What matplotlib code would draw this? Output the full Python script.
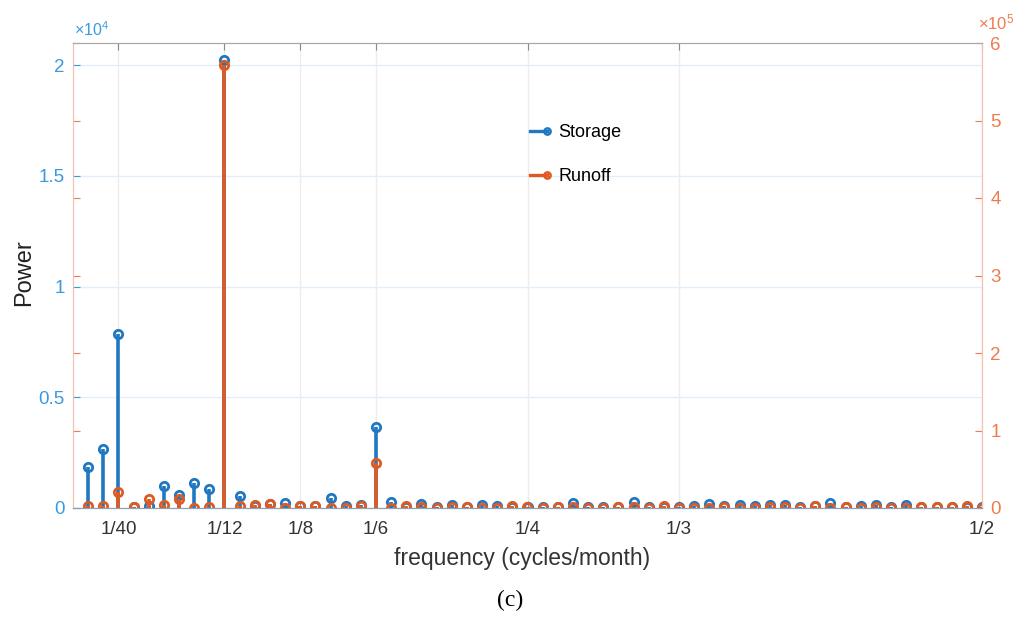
#! /usr/bin/env python3

# Power spectrum of storage and runoff (stem plot with two y axes)

import numpy as np
import matplotlib.pyplot as plt
from matplotlib.lines import Line2D
from matplotlib.legend_handler import HandlerBase
from matplotlib.ticker import FuncFormatter

plt.rcParams['font.family'] = ['Liberation Sans', 'DejaVu Sans']
plt.rcParams['mathtext.fontset'] = 'custom'
plt.rcParams['mathtext.rm'] = 'Liberation Sans'
plt.rcParams['mathtext.it'] = 'Liberation Sans:italic'

# Input data: 120 monthly values -> harmonics k = 1..60 (k/120 cycles/month)
n_months = 120
harmonic = np.arange(1, 61)

storage = [1840, 2650, 7860, 50, 100, 980, 580, 1120, 860, 20230,
           530, 100, 200, 230, 80, 100, 470, 80, 150, 3660,
           270, 60, 170, 60, 150, 60, 120, 100, 50, 60,
           50, 60, 230, 60, 60, 60, 270, 60, 60, 60,
           80, 170, 100, 120, 80, 120, 150, 60, 80, 210,
           60, 80, 150, 60, 120, 60, 60, 50, 50, 50]

runoff = [3000, 3000, 21000, 1000, 11000, 4500, 11000, 500, 1000, 572000,
          3000, 3500, 5800, 500, 2000, 3000, 500, 300, 2000, 58700,
          300, 2500, 1500, 300, 800, 1000, 500, 500, 2500, 1000,
          500, 1500, 1000, 300, 500, 1000, 800, 500, 2000, 300,
          500, 300, 800, 300, 500, 800, 800, 300, 2500, 500,
          800, 500, 800, 300, 500, 800, 1000, 1000, 2000, 500]

xtick_pos = [1 / 40, 1 / 12, 1 / 8, 1 / 6, 1 / 4, 1 / 3, 1 / 2]
xtick_labels = ['1/40', '1/12', '1/8', '1/6', '1/4', '1/3', '1/2']

freq = harmonic / n_months

# colours (MATLAB-like)
blue = '#1f78c1'
orange = '#de5a22'
blue_txt = '#3a9ae0'
orange_txt = '#ee7b4e'
spine_orange = '#f6c2ab'


class HandlerStem(HandlerBase):
    # legend key: short horizontal line with an open circle at its right end
    def create_artists(self, legend, orig_handle, xdescent, ydescent, width, height, fontsize, trans):
        y = height / 2 - ydescent
        col = orig_handle.get_color()
        line = Line2D([-xdescent, width - xdescent], [y, y], color=col, lw=2.4)
        mk = Line2D([width - xdescent], [y], color=col, marker='o', mfc='none', mew=1.8, ms=4.5)
        line.set_transform(trans)
        mk.set_transform(trans)
        return [line, mk]


W, H = 1029, 624
fig = plt.figure(figsize=(W / 100, H / 100), dpi=100)
ax = fig.add_axes([73 / W, 1 - 508 / H, (982 - 73) / W, (508 - 43) / H])
ax2 = ax.twinx()

# Storage stems (left axis)
ml, sl, bl = ax.stem(freq, storage, basefmt=' ')
sl.set_color(blue)
sl.set_linewidth(2.6)
ml.set_color(blue)
ml.set_markerfacecolor('none')
ml.set_markersize(6)
ml.set_markeredgewidth(2)

# Runoff stems (right axis)
ml2, sl2, bl2 = ax2.stem(freq, runoff, basefmt=' ')
sl2.set_color(orange)
sl2.set_linewidth(2.6)
ml2.set_color(orange)
ml2.set_markerfacecolor('none')
ml2.set_markersize(6)
ml2.set_markeredgewidth(2)

# axes limits and ticks
ax.set_xlim(0, 0.5)
ax.set_ylim(0, 2.1e4)
ax2.set_ylim(0, 6e5)

ax.set_xticks(xtick_pos)
ax.set_xticklabels(xtick_labels)
ax.set_yticks([0, 5000, 10000, 15000, 20000])
ax.yaxis.set_major_formatter(FuncFormatter(lambda v, p: f'{v / 1e4:g}'))
ax2.set_yticks(np.arange(0, 7) * 1e5)
ax2.yaxis.set_major_formatter(FuncFormatter(lambda v, p: f'{v / 1e5:g}'))

ax.tick_params(axis='x', direction='in', length=5, color='#888888', top=True,
               labelsize=13.5, labelcolor='#333333', pad=9)
ax.tick_params(axis='y', direction='in', length=5, color=blue_txt,
               labelsize=13.5, labelcolor=blue_txt, pad=6)
ax2.tick_params(axis='y', direction='in', length=5, color=orange_txt, left=True,
                labelsize=13.5, labelcolor=orange_txt, pad=6)

# faint grid
ax.grid(True, axis='y', color='#e3eef8', linewidth=1)
ax.grid(True, axis='x', color='#ececec', linewidth=1)
ax.set_axisbelow(True)

# spines
for a in (ax, ax2):
    a.spines['top'].set_color('#a8a8a8')
    a.spines['bottom'].set_color('#8aa3bb')
    a.spines['left'].set_color(spine_orange)
    a.spines['right'].set_color(spine_orange)

# labels
ax.set_xlabel('frequency (cycles/month)', fontsize=16.5, color='#333333')
ax.xaxis.set_label_coords((522 - 73) / 909, -(547 - 508) / 465)
ax.set_ylabel('Power', fontsize=17, color='#222222')
ax.yaxis.set_label_coords(-(73 - 35) / 909, (508 - 273) / 465)

fig.text(74 / W, 1 - 30 / H, r'$\times10^{4}$', color=blue_txt, fontsize=11.5, va='center')
fig.text(978 / W, 1 - 22 / H, r'$\times10^{5}$', color=orange_txt, fontsize=12, va='center')

# legend
h1 = Line2D([], [], color=blue)
h2 = Line2D([], [], color=orange)
ax2.legend([h1, h2], ['Storage', 'Runoff'], loc='upper left', bbox_to_anchor=(0.485, 0.86),
           frameon=False, handler_map={Line2D: HandlerStem()}, handlelength=0.95,
           handletextpad=0.6, labelspacing=1.5, fontsize=13)

fig.text(510 / W, 1 - 600 / H, '(c)', family='Liberation Serif', fontsize=17,
         ha='center', va='center')

plt.savefig('out.png', dpi=100, facecolor='white')
print("Saved out.png")
